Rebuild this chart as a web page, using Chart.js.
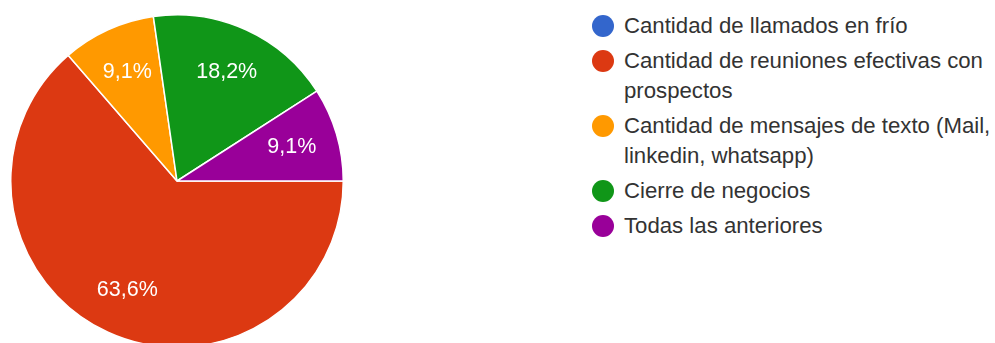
<!DOCTYPE html>
<html>
<head>
<meta charset="utf-8">
<script src="https://cdn.jsdelivr.net/npm/chart.js@4/dist/chart.umd.min.js"></script>
<style>
  html, body { margin: 0; padding: 0; background: #fff; overflow: hidden; }
  body { width: 995px; height: 343px; position: relative; }
  #pie-box { position: absolute; left: 10px; top: 14px; width: 334px; height: 334px; }
  #legend { position: absolute; left: 592px; top: 11px; width: 403px; margin: 0; padding: 0; list-style: none;
    font-family: Arial, "Liberation Sans", sans-serif; font-size: 22.2px; color: #333; }
  #legend li { position: relative; padding-left: 32px; line-height: 30px; margin-bottom: 5px; width: 372px; }
  #legend .dot { position: absolute; left: 0; top: 4px; width: 22px; height: 22px; border-radius: 50%; }
</style>
</head>
<body>
<div id="pie-box"><canvas id="pie"></canvas></div>
<ul id="legend"></ul>
<script>
const categories = [
    "Cantidad de llamados en frío",
    "Cantidad de reuniones efectivas con prospectos",
    "Cantidad de mensajes de texto (Mail, linkedin, whatsapp)",
    "Cierre de negocios",
    "Todas las anteriores"
];
const responses = [0, 7, 1, 2, 1];
const sliceColors = ["#3366cc", "#dc3912", "#ff9900", "#109618", "#990099"];

// percent labels inside the slices, written like Google Forms (comma decimal)
const sliceLabels = {
    id: "sliceLabels",
    afterDatasetsDraw(chart) {
        const ctx = chart.ctx;
        const meta = chart.getDatasetMeta(0);
        const data = chart.data.datasets[0].data;
        const total = data.reduce((a, b) => a + b, 0);
        ctx.save();
        ctx.fillStyle = "#fff";
        ctx.font = "21.5px Arial, 'Liberation Sans', sans-serif";
        ctx.textAlign = "center";
        ctx.textBaseline = "middle";
        meta.data.forEach((arc, i) => {
            if (!data[i]) return;
            const p = arc.getProps(["x", "y", "startAngle", "endAngle", "outerRadius"], true);
            const mid = (p.startAngle + p.endAngle) / 2;
            const r = p.outerRadius * 0.72;
            const txt = (data[i] / total * 100).toFixed(1).replace(".", ",") + "%";
            ctx.fillText(txt, p.x + Math.cos(mid) * r, p.y + Math.sin(mid) * r);
        });
        ctx.restore();
    }
};

const chart = new Chart(document.getElementById("pie"), {
    type: "pie",
    data: {
        labels: categories,
        datasets: [{
            data: responses,
            backgroundColor: sliceColors,
            borderColor: "#fff",
            borderWidth: 1.5
        }]
    },
    options: {
        responsive: true,
        maintainAspectRatio: false,
        animation: false,
        rotation: 90,
        layout: { padding: 0 },
        plugins: {
            legend: { display: false },
            tooltip: { enabled: false }
        }
    },
    plugins: [sliceLabels]
});

// legend built from the chart's own data
const legend = document.getElementById("legend");
chart.data.labels.forEach((label, i) => {
    const li = document.createElement("li");
    const dot = document.createElement("span");
    dot.className = "dot";
    dot.style.background = chart.data.datasets[0].backgroundColor[i];
    li.appendChild(dot);
    li.appendChild(document.createTextNode(label));
    legend.appendChild(li);
});
</script>
</body>
</html>
